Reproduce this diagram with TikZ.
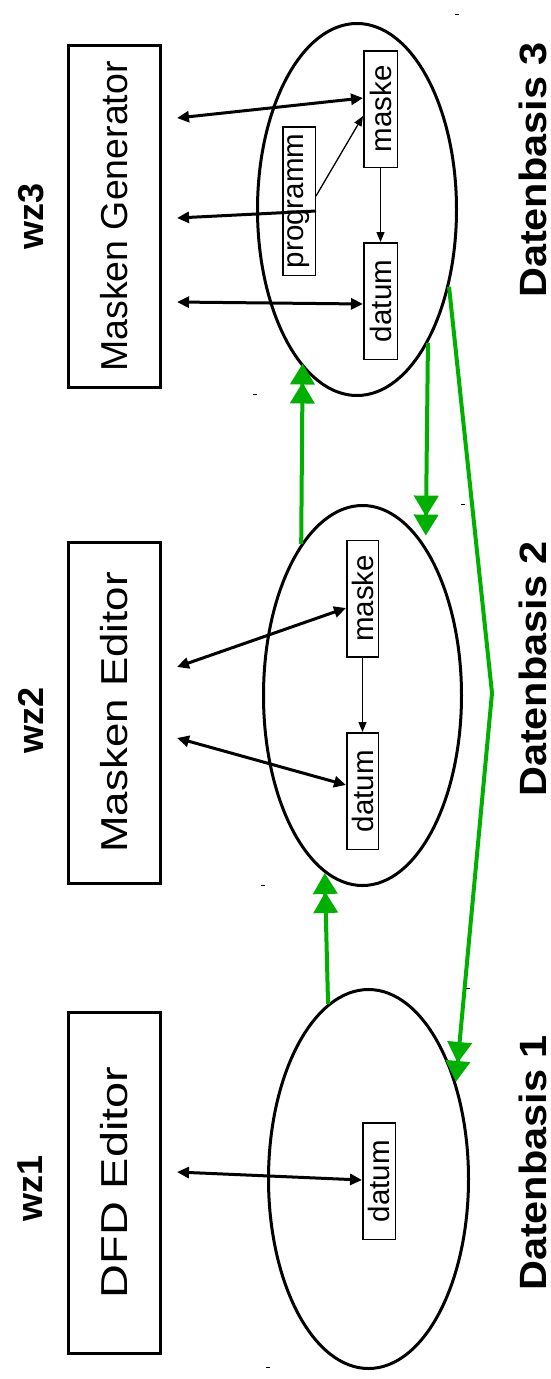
\documentclass[tikz,border=0pt]{standalone}
\usepackage{fontspec}
\setmainfont{Liberation Sans}
\usetikzlibrary{shapes.geometric,arrows.meta,calc}
\definecolor{grn}{RGB}{0,176,0}
\begin{document}
\begin{tikzpicture}[x=1pt,y=-1pt,
  tool/.style={draw,line width=3pt,minimum width=92pt,minimum height=342pt,inner sep=0pt,font=\fontsize{37.5}{40}\selectfont},
  db/.style={draw,ellipse,line width=3pt,inner sep=0pt},
  item/.style={draw,line width=1.5pt,minimum width=33.5pt,minimum height=116.5pt,inner sep=0pt,font=\fontsize{29.5}{32}\selectfont},
  lab/.style={inner sep=0pt,font=\bfseries\fontsize{36}{38}\selectfont},
  dblab/.style={inner sep=0pt,font=\bfseries\fontsize{38}{40}\selectfont},
  barrow/.style={line width=3pt,>={Triangle[length=12pt,width=11pt]}},
  tarrow/.style={line width=1.3pt,->,>={Triangle[length=10pt,width=8pt]}},
  garr/.style={draw=grn,line width=4pt,-{Triangle[length=21pt,width=24pt,sep=-2pt]Triangle[length=21pt,width=24pt]}},
  tick/.style={line width=0.8pt}
]
\useasboundingbox (0,0) rectangle (550,1379);

% tools
\node[tool] (mg) at (114.5,216.5) {\rotatebox{90}{Masken Generator}};
\node[tool,minimum height=341pt] (me) at (114.5,712.5) {\rotatebox{90}{\scalebox{1.17}[1]{Masken Editor}}};
\node[tool,minimum height=341pt] (dfd) at (114.5,1182.5) {\rotatebox{90}{\scalebox{1.25}[1]{DFD Editor}}};

% labels
\node[lab] (wz3) at (31,216) {\rotatebox{90}{wz3}};
\node[lab] (wz2) at (31,720) {\rotatebox{90}{wz2}};
\node[lab] (wz1) at (30,1188) {\rotatebox{90}{wz1}};
\node[dblab] (db3) at (533,170) {\rotatebox{90}{\scalebox{1.09}[1]{Datenbasis 3}}};
\node[dblab] (db2) at (533,669) {\rotatebox{90}{\scalebox{1.09}[1]{Datenbasis 2}}};
\node[dblab] (db1) at (533,1163) {\rotatebox{90}{\scalebox{1.09}[1]{Datenbasis 1}}};

% databases
\node[db,minimum width=199pt,minimum height=372pt] (e3) at (357,209.5) {};
\node[db,minimum width=198pt,minimum height=380pt] (e2) at (362.5,695.5) {};
\node[db,minimum width=200pt,minimum height=379pt] (e1) at (368.5,1179) {};

% items
\node[item] (m3) at (380.5,109) {\rotatebox{90}{maske}};
\node[item] (d3) at (380.5,301) {\rotatebox{90}{datum}};
\node[item,minimum width=32.5pt,minimum height=148.5pt] (prog) at (299,201) {\rotatebox{90}{programm}};
\node[item,minimum width=31.5pt] (m2) at (362.5,598.5) {\rotatebox{90}{maske}};
\node[item,minimum width=31.5pt] (d2) at (362.5,791) {\rotatebox{90}{datum}};
\node[item,minimum width=32.5pt] (d1) at (379,1181) {\rotatebox{90}{datum}};

% black connectors
\draw[barrow,<->] ($(mg.east |- 0,118)+(15,0)$) -- (m3.west |- 0,98);
\draw[barrow,<-] ($(mg.east |- 0,218)+(15,0)$) -- (prog.east |- 0,211);
\draw[barrow,<->] ($(mg.east |- 0,302)+(15,0)$) -- (d3.west |- 0,304);
\draw[tarrow] (prog.east |- 0,196) -- (m3.west |- 0,116);
\draw[tarrow] (m3.south) -- (d3.north);
\draw[barrow,<->] ($(me.east |- 0,667)+(15,0)$) -- (m2.west |- 0,608);
\draw[barrow,<->] ($(me.east |- 0,738)+(15,0)$) -- (d2.west |- 0,785);
\draw[tarrow] (m2.south) -- (d2.north);
\draw[barrow,<->] ($(dfd.east |- 0,1172)+(15,0)$) -- (d1.west |- 0,1180);

% green connectors
\coordinate (bend) at (492,693);
\draw[garr] (e1.103) -- (e2.-102);
\draw[garr,shorten >=-4pt] (e2.112) -- (e3.-109);
\draw[garr,shorten >=11pt] (e3.-62) -- (e2.67);
\draw[garr] (e3.-40) -- (bend) -- (e1.48);

% small marks
\draw[tick] (455,14) -- (459,14);
\draw[tick] (253,394) -- (257,394);
\draw[tick] (461,504) -- (465,504);
\draw[tick] (261,885) -- (265,885);
\draw[tick] (466,988) -- (470,988);
\draw[tick] (266,1367) -- (270,1367);
\end{tikzpicture}
\end{document}
